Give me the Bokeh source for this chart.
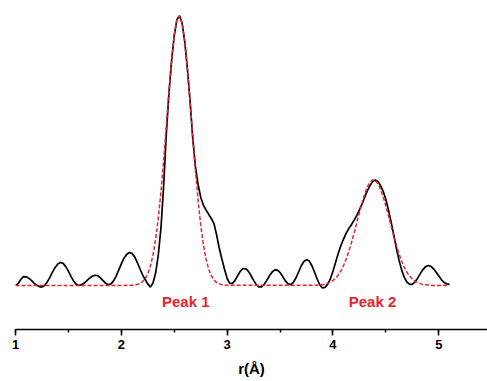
from bokeh.plotting import figure
from bokeh.models import Range1d, SingleIntervalTicker
from bokeh.core.properties import value
from bokeh.embed import file_html
from bokeh.resources import INLINE

# Measured FT magnitude (black solid), r in Angstrom, normalised amplitude
r_data = [
    1.000, 1.025, 1.050, 1.075, 1.100, 1.125, 1.150, 1.175, 1.200, 1.225,
    1.250, 1.275, 1.300, 1.325, 1.350, 1.375, 1.400, 1.425, 1.450, 1.475,
    1.500, 1.525, 1.550, 1.575, 1.600, 1.625, 1.650, 1.675, 1.700, 1.725,
    1.750, 1.775, 1.800, 1.825, 1.850, 1.875, 1.900, 1.925, 1.950, 1.975,
    2.000, 2.025, 2.050, 2.075, 2.100, 2.125, 2.150, 2.175, 2.200, 2.225,
    2.250, 2.275, 2.300, 2.325, 2.350, 2.375, 2.400, 2.425, 2.450, 2.475,
    2.500, 2.525, 2.550, 2.575, 2.600, 2.625, 2.650, 2.675, 2.700, 2.725,
    2.750, 2.775, 2.800, 2.825, 2.850, 2.875, 2.900, 2.925, 2.950, 2.975,
    3.000, 3.025, 3.050, 3.075, 3.100, 3.125, 3.150, 3.175, 3.200, 3.225,
    3.250, 3.275, 3.300, 3.325, 3.350, 3.375, 3.400, 3.425, 3.450, 3.475,
    3.500, 3.525, 3.550, 3.575, 3.600, 3.625, 3.650, 3.675, 3.700, 3.725,
    3.750, 3.775, 3.800, 3.825, 3.850, 3.875, 3.900, 3.925, 3.950, 3.975,
    4.000, 4.025, 4.050, 4.075, 4.100, 4.125, 4.150, 4.175, 4.200, 4.225,
    4.250, 4.275, 4.300, 4.325, 4.350, 4.375, 4.400, 4.425, 4.450, 4.475,
    4.500, 4.525, 4.550, 4.575, 4.600, 4.625, 4.650, 4.675, 4.700, 4.725,
    4.750, 4.775, 4.800, 4.825, 4.850, 4.875, 4.900, 4.925, 4.950, 4.975,
    5.000, 5.025, 5.050, 5.075, 5.100,
]
ft_data = [
    0.000, 0.007, 0.022, 0.033, 0.032, 0.027, 0.019, 0.009, 0.001, -0.004,
    -0.006, 0.000, 0.013, 0.030, 0.050, 0.067, 0.080, 0.085, 0.082, 0.070,
    0.053, 0.033, 0.016, 0.004, 0.000, 0.003, 0.009, 0.018, 0.027, 0.034,
    0.038, 0.037, 0.029, 0.019, 0.009, 0.003, 0.005, 0.016, 0.034, 0.057,
    0.080, 0.101, 0.115, 0.122, 0.119, 0.107, 0.086, 0.063, 0.040, 0.022,
    0.006, -0.006, 0.010, 0.048, 0.115, 0.215, 0.370, 0.560, 0.712, 0.832,
    0.926, 0.984, 0.999, 0.970, 0.901, 0.800, 0.680, 0.545, 0.440, 0.375,
    0.327, 0.298, 0.280, 0.264, 0.248, 0.230, 0.188, 0.139, 0.098, 0.060,
    0.026, 0.008, 0.008, 0.019, 0.037, 0.053, 0.063, 0.062, 0.053, 0.037,
    0.019, 0.003, -0.005, -0.005, 0.004, 0.019, 0.036, 0.050, 0.058, 0.057,
    0.048, 0.033, 0.017, 0.006, 0.003, 0.011, 0.028, 0.050, 0.073, 0.089,
    0.096, 0.091, 0.074, 0.050, 0.024, 0.003, -0.009, -0.007, 0.005, 0.024,
    0.053, 0.086, 0.119, 0.148, 0.172, 0.194, 0.211, 0.226, 0.242, 0.260,
    0.280, 0.302, 0.327, 0.351, 0.370, 0.385, 0.391, 0.385, 0.370, 0.348,
    0.318, 0.278, 0.234, 0.186, 0.136, 0.092, 0.056, 0.029, 0.012, 0.004,
    0.004, 0.013, 0.027, 0.044, 0.059, 0.070, 0.074, 0.071, 0.062, 0.049,
    0.035, 0.021, 0.011, 0.006, 0.004,
]

# Two-shell fit (red dashed)
r_fit = [
    1.000, 2.000, 2.100, 2.125, 2.150, 2.175, 2.200, 2.225, 2.250, 2.275,
    2.300, 2.325, 2.350, 2.375, 2.400, 2.425, 2.450, 2.475, 2.500, 2.525,
    2.550, 2.575, 2.600, 2.625, 2.650, 2.675, 2.700, 2.725, 2.750, 2.775,
    2.800, 2.825, 2.850, 2.875, 2.900, 2.925, 2.950, 2.975, 3.000, 3.850,
    3.875, 3.900, 3.925, 3.950, 3.975, 4.000, 4.025, 4.050, 4.075, 4.100,
    4.125, 4.150, 4.175, 4.200, 4.225, 4.250, 4.275, 4.300, 4.325, 4.350,
    4.375, 4.400, 4.425, 4.450, 4.475, 4.500, 4.525, 4.550, 4.575, 4.600,
    4.625, 4.650, 4.675, 4.700, 4.725, 4.750, 4.775, 4.800, 4.825, 4.850,
    4.875, 4.900, 4.925, 4.950, 5.100,
]
ft_fit = [
    0.000, 0.000, 0.001, 0.002, 0.004, 0.007, 0.014, 0.025, 0.043, 0.072,
    0.114, 0.173, 0.252, 0.350, 0.465, 0.591, 0.718, 0.834, 0.927, 0.984,
    0.999, 0.970, 0.901, 0.799, 0.678, 0.550, 0.427, 0.317, 0.224, 0.152,
    0.099, 0.061, 0.036, 0.021, 0.011, 0.006, 0.003, 0.001, 0.001, 0.001,
    0.002, 0.003, 0.005, 0.008, 0.012, 0.019, 0.027, 0.039, 0.054, 0.074,
    0.098, 0.126, 0.159, 0.195, 0.233, 0.271, 0.307, 0.339, 0.365, 0.382,
    0.391, 0.389, 0.377, 0.356, 0.328, 0.294, 0.257, 0.219, 0.182, 0.147,
    0.116, 0.089, 0.066, 0.048, 0.034, 0.024, 0.016, 0.011, 0.007, 0.004,
    0.003, 0.002, 0.001, 0.000, 0.000,
]

peak_labels = ["Peak 1", "Peak 2"]
RED = "#e8232f"

p = figure(
    width=487, height=381,
    x_range=Range1d(1.0, 5.46), y_range=Range1d(-0.163, 1.0259),
    output_backend="svg", toolbar_location=None,
    y_axis_location=None,
    min_border_left=15, min_border_right=0, min_border_top=8, min_border_bottom=52,
)
p.outline_line_color = None
p.grid.visible = False
p.background_fill_color = "white"
p.border_fill_color = "white"

p.line(r_data, ft_data, line_color="black", line_width=1.7)
p.line(r_fit, ft_fit, line_color=RED, line_width=1.5, line_dash="4 2")

p.text(x=[2.609, 4.373], y=[-0.060, -0.060], text=peak_labels,
       text_color=RED, text_font=value("Liberation Sans"), text_font_style="bold",
       text_font_size="15px", text_align="center", text_baseline="alphabetic")

ax = p.xaxis[0]
ax.ticker = SingleIntervalTicker(interval=1, num_minor_ticks=2)
ax.axis_label = "r(Å)"
ax.axis_label_text_font = "Liberation Sans"
ax.axis_label_text_font_style = "bold"
ax.axis_label_text_font_size = "15px"
ax.axis_label_text_color = "black"
ax.axis_label_standoff = 8
ax.major_label_text_font = "Liberation Sans"
ax.major_label_text_font_style = "bold"
ax.major_label_text_font_size = "13px"
ax.major_label_text_color = "black"
ax.major_label_standoff = 4
ax.axis_line_width = 1.5
ax.axis_line_color = "black"
ax.major_tick_line_color = "black"
ax.minor_tick_line_color = "black"
ax.major_tick_line_width = 1.5
ax.minor_tick_line_width = 1.5
ax.major_tick_in = 0
ax.major_tick_out = 6
ax.minor_tick_in = 0
ax.minor_tick_out = 3

open("out.html", "w").write(file_html(p, INLINE))
